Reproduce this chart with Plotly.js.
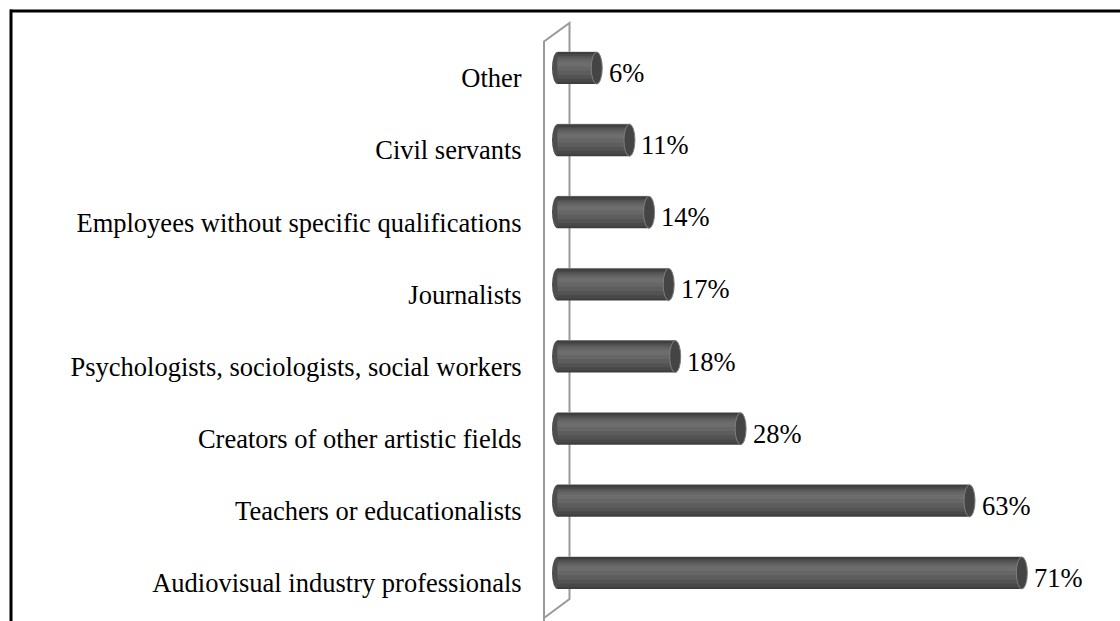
<!DOCTYPE html>
<html><head><meta charset="utf-8">
<script src="https://cdn.plot.ly/plotly-3.0.1.min.js"></script>
<style>html,body{margin:0;padding:0;background:#fff}#chart{width:1120px;height:621px}</style>
</head><body><div id="chart"></div>
<script>
const categories = ["Other","Civil servants","Employees without specific qualifications","Journalists","Psychologists, sociologists, social workers","Creators of other artistic fields","Teachers or educationalists","Audiovisual industry professionals"];
const values = [6, 11, 14, 17, 18, 28, 63, 71];
const valueLabels = ["6%","11%","14%","17%","18%","28%","63%","71%"];

const W = 1120, H = 621, ML = 544, MR = 13, MT = 42, MB = 2;
const PW = W - ML - MR, PH = H - MT - MB;
const PXPER = 6.54;
const XMIN = -(557.5 - ML) / PXPER, XMAX = XMIN + PW / PXPER;
const px = x => (x - ML) / PW;
const py = y => (H - MB - y) / PH;
const CAT = PH / categories.length;       // pixels per category
const SHIFT = 10 / CAT;                   // bars sit slightly above their label
const HALF = 16 / CAT;                    // half bar thickness in category units
const CAPW = 5.5 / PXPER;                 // cap half-width in value units

const layers = [
  {w: 2 * HALF, c: "#3e3e3e"},
  {w: 1.75 * HALF, c: "#484848"},
  {w: 1.45 * HALF, c: "#535353", up: 0.05},
  {w: 1.1 * HALF, c: "#5d5d5d", up: 0.12},
  {w: 0.7 * HALF, c: "#666666", up: 0.2},
  {w: 0.3 * HALF, c: "#6d6d6d", up: 0.25}
];
const traces = layers.map(l => ({
  type: "bar", orientation: "h", x: values, y: categories, width: l.w,
  offset: -SHIFT - l.w / 2 - (l.up || 0) * HALF,
  marker: {color: l.c, line: {width: 0}}, hoverinfo: "skip", showlegend: false
}));

const shapes = [];
// 3D wall outline
shapes.push({type: "path", xref: "paper", yref: "paper", layer: "below",
  path: `M ${px(544)} ${py(621)} L ${px(544)} ${py(41.5)} L ${px(569.5)} ${py(23)} L ${px(569.5)} ${py(599)} L ${px(544)} ${py(618)}`,
  line: {color: "#9a9a9a", width: 2}});
// frame
shapes.push({type: "line", xref: "paper", yref: "paper", x0: px(10), x1: px(1125), y0: py(11), y1: py(11), line: {color: "#000", width: 3}});
shapes.push({type: "line", xref: "paper", yref: "paper", x0: px(11), x1: px(11), y0: py(9.5), y1: py(625), line: {color: "#000", width: 3}});
// cylinder rims and caps
values.forEach((v, i) => {
  const c = i - SHIFT;
  shapes.push({type: "line", xref: "x", yref: "y", layer: "below", x0: 0, x1: v, y0: c - HALF, y1: c - HALF,
    line: {color: "#b4b4b4", width: 1}});
  shapes.push({type: "circle", xref: "x", yref: "y", layer: "below", x0: -CAPW, x1: CAPW, y0: c - HALF, y1: c + HALF,
    fillcolor: "#4e4e4e", line: {width: 0}});
  shapes.push({type: "circle", xref: "x", yref: "y", layer: "above", x0: v - CAPW, x1: v + CAPW, y0: c - HALF, y1: c + HALF,
    fillcolor: "#444444", line: {color: "#7e7e7e", width: 1}});
});

const annotations = values.map((v, i) => ({
  x: v, y: categories[i], xref: "x", yref: "y", text: valueLabels[i], showarrow: false,
  xanchor: "left", yanchor: "middle", xshift: 10, yshift: 5,
  font: {family: "Liberation Serif, Times New Roman, serif", size: 26.5, color: "#000"}
}));

const layout = {
  width: W, height: H, margin: {l: ML, r: MR, t: MT, b: MB, pad: 0},
  paper_bgcolor: "#fff", plot_bgcolor: "rgba(0,0,0,0)",
  barmode: "overlay", showlegend: false,
  xaxis: {range: [XMIN, XMAX], showgrid: false, zeroline: false, showticklabels: false, showline: false, ticks: "", fixedrange: true},
  yaxis: {type: "category", range: [categories.length - 0.5, -0.5], showgrid: false, zeroline: false, showline: false,
    ticks: "outside", ticklen: 16, tickcolor: "rgba(0,0,0,0)",
    tickfont: {family: "Liberation Serif, Times New Roman, serif", size: 26.5, color: "#000"}, fixedrange: true},
  shapes: shapes, annotations: annotations
};
Plotly.newPlot("chart", traces, layout, {displayModeBar: false, staticPlot: true});
</script></body></html>
